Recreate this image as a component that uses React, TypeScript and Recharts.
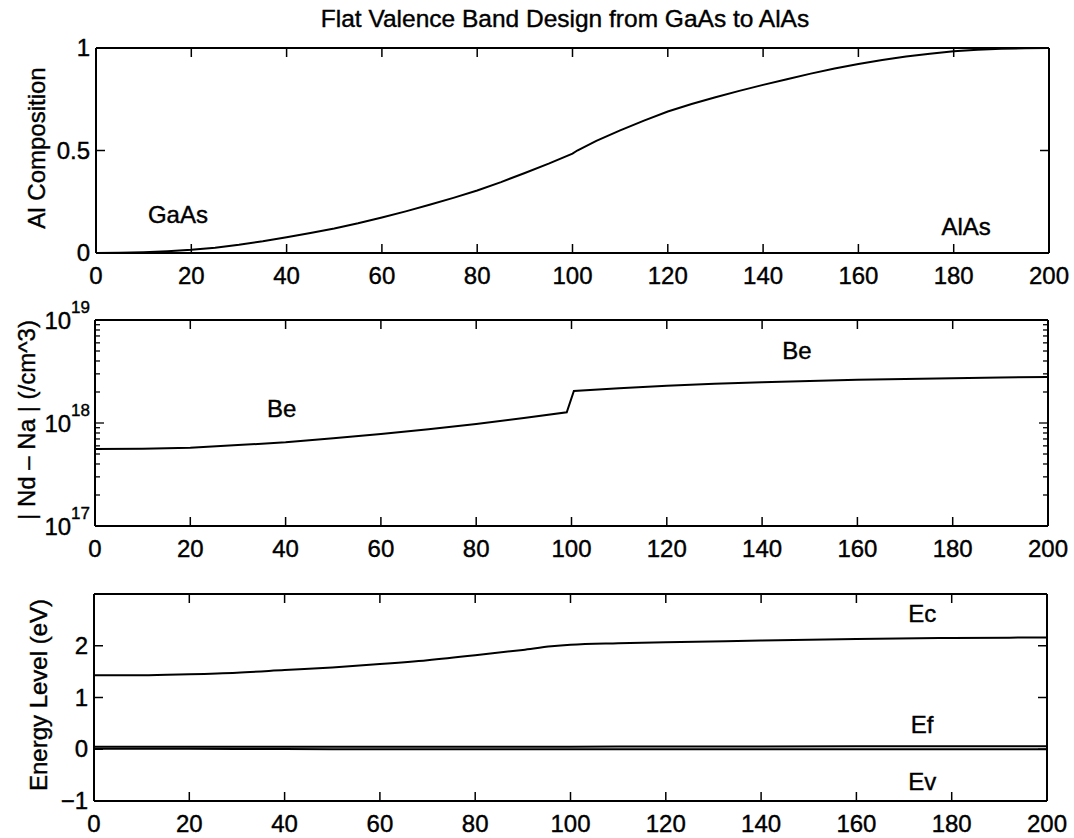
import { LineChart, Line, XAxis, YAxis, ReferenceDot } from "recharts"

const FONT = "'Liberation Sans', Arial, Helvetica, sans-serif"
const W = 1074

// position along the structure
const xTicks = [0, 20, 40, 60, 80, 100, 120, 140, 160, 180, 200]

// Al composition profile
const compX = [0, 5, 10, 15, 20, 25, 30, 35, 40, 45, 50, 55, 60, 65, 70, 75, 80, 85, 90, 95, 100, 101, 105, 110, 115, 120, 125, 130, 135, 140, 145, 150, 155, 160, 165, 170, 175, 180, 185, 190, 195, 200]
const compY = [0, 0.001, 0.004, 0.009, 0.016, 0.026, 0.04, 0.057, 0.077, 0.098, 0.12, 0.145, 0.173, 0.203, 0.235, 0.269, 0.305, 0.346, 0.39, 0.436, 0.485, 0.5, 0.547, 0.598, 0.646, 0.69, 0.727, 0.76, 0.791, 0.82, 0.848, 0.875, 0.9, 0.922, 0.941, 0.958, 0.972, 0.984, 0.992, 0.996, 0.999, 1.0]
const compTicks = [0, 0.5, 1]

// |Nd - Na| doping (Be)
const dopX = [0, 10, 20, 30, 40, 50, 60, 70, 80, 90, 99, 100.5, 110, 120, 130, 140, 150, 160, 170, 180, 190, 200]
const dopY = [5.6e17, 5.62e17, 5.75e17, 6.1e17, 6.5e17, 7.1e17, 7.8e17, 8.7e17, 9.8e17, 1.12e18, 1.27e18, 2.05e18, 2.18e18, 2.3e18, 2.4e18, 2.49e18, 2.56e18, 2.63e18, 2.68e18, 2.72e18, 2.76e18, 2.8e18]
const logTicks = [
  1e17, 2e17, 3e17, 4e17, 5e17, 6e17, 7e17, 8e17, 9e17,
  1e18, 2e18, 3e18, 4e18, 5e18, 6e18, 7e18, 8e18, 9e18, 1e19,
]

// band edges
const bandX = [0, 10, 20, 30, 40, 50, 60, 70, 80, 90, 96, 100, 110, 120, 140, 160, 180, 200]
const ecY = [1.43, 1.43, 1.45, 1.48, 1.53, 1.58, 1.645, 1.72, 1.815, 1.92, 1.99, 2.02, 2.05, 2.07, 2.1, 2.13, 2.15, 2.16]
const efY = [0.05, 0.05, 0.05, 0.05, 0.05, 0.05, 0.05, 0.05, 0.05, 0.05, 0.05, 0.05, 0.052, 0.053, 0.055, 0.057, 0.058, 0.06]
const evY = [0.01, 0.01, 0.01, 0.005, 0.005, 0.0, 0.0, 0.0, 0.0, 0.0, 0.0, 0.0, 0.0, 0.0, 0.0, 0.0, 0.0, 0.0]
const energyTicks = [-1, 0, 1, 2]

const compData = compX.map((x, i) => ({ x, y: compY[i] }))
const dopData = dopX.map((x, i) => ({ x, y: dopY[i] }))
const bandData = bandX.map((x, i) => ({ x, ec: ecY[i], ef: efY[i], ev: evY[i] }))

const axisLine = { stroke: "#000", strokeWidth: 2 }
const TICK = 9
const MINOR = 5
const txt = { fontFamily: FONT, fill: "#000", stroke: "#000", strokeWidth: 0.4 }

const isDecade = (v: number) => Math.abs(Math.log10(v) - Math.round(Math.log10(v))) < 1e-6

function BottomTick(props: any) {
  const { x, y, payload } = props
  return (
    <g>
      <line x1={x} y1={y} x2={x} y2={y - TICK} stroke="#000" strokeWidth={1.5} />
      <text x={x} y={y + 31} textAnchor="middle" fontSize={24} {...txt}>
        {payload.value}
      </text>
    </g>
  )
}

function TopTick(props: any) {
  const { x, y } = props
  return <line x1={x} y1={y} x2={x} y2={y + TICK} stroke="#000" strokeWidth={1.5} />
}

function LeftTick(props: any) {
  const { x, y, payload } = props
  const v = payload.value
  const label = v < 0 ? "\u2212" + Math.abs(v) : String(v)
  return (
    <g>
      <line x1={x} y1={y} x2={x + TICK} y2={y} stroke="#000" strokeWidth={1.5} />
      <text x={x - 6} y={y + 8} textAnchor="end" fontSize={24} {...txt}>
        {label}
      </text>
    </g>
  )
}

function RightTick(props: any) {
  const { x, y } = props
  return <line x1={x} y1={y} x2={x - TICK} y2={y} stroke="#000" strokeWidth={1.5} />
}

function LogLeftTick(props: any) {
  const { x, y, payload } = props
  const v = payload.value
  const major = isDecade(v)
  return (
    <g>
      <line x1={x} y1={y} x2={x + (major ? TICK : MINOR)} y2={y} stroke="#000" strokeWidth={1.3} />
      {major && (
        <text x={x - 5} y={y + 9} textAnchor="end" fontSize={24} {...txt}>
          10
          <tspan dy={-16} fontSize={17}>{Math.round(Math.log10(v))}</tspan>
        </text>
      )}
    </g>
  )
}

function LogRightTick(props: any) {
  const { x, y, payload } = props
  const major = isDecade(payload.value)
  return <line x1={x} y1={y} x2={x - (major ? TICK : MINOR)} y2={y} stroke="#000" strokeWidth={1.3} />
}

function note(text: string) {
  return (p: any) => (
    <text x={p.cx} y={p.cy} textAnchor="middle" dominantBaseline="central" fontSize={24} {...txt}>
      {text}
    </text>
  )
}

export default function App() {
  return (
    <div style={{ position: "absolute", left: 0, top: 0, width: W, height: 838, background: "#fff" }}>
      <div style={{ position: "absolute", left: 0, top: 0 }}>
        <LineChart width={W} height={300} data={compData} margin={{ top: 0, right: 0, bottom: 0, left: 0 }}>
          <XAxis xAxisId="b" dataKey="x" type="number" domain={[0, 200]} ticks={xTicks} interval={0} height={47} tickSize={0} tickMargin={0} axisLine={axisLine} tickLine={false} tick={(p: any) => <BottomTick {...p} />} allowDataOverflow />
          <XAxis xAxisId="t" orientation="top" dataKey="x" type="number" domain={[0, 200]} ticks={xTicks} interval={0} height={48} tickSize={0} tickMargin={0} axisLine={axisLine} tickLine={false} tick={(p: any) => <TopTick {...p} />} allowDataOverflow />
          <YAxis yAxisId="l" type="number" domain={[0, 1]} ticks={compTicks} interval={0} width={96} tickSize={0} tickMargin={0} axisLine={axisLine} tickLine={false} tick={(p: any) => <LeftTick {...p} />} allowDataOverflow />
          <YAxis yAxisId="r" orientation="right" type="number" domain={[0, 1]} ticks={compTicks} interval={0} width={25} tickSize={0} tickMargin={0} axisLine={axisLine} tickLine={false} tick={(p: any) => <RightTick {...p} />} allowDataOverflow />
          <Line xAxisId="b" yAxisId="l" dataKey="y" type="linear" stroke="#000" strokeWidth={2} dot={false} isAnimationActive={false} />
          <ReferenceDot xAxisId="b" yAxisId="l" x={17.2} y={0.19} r={0} shape={note("GaAs")} />
          <ReferenceDot xAxisId="b" yAxisId="l" x={182.6} y={0.13} r={0} shape={note("AlAs")} />
        </LineChart>
      </div>

      <div style={{ position: "absolute", left: 0, top: 288 }}>
        <LineChart width={W} height={282} data={dopData} margin={{ top: 0, right: 0, bottom: 0, left: 0 }}>
          <XAxis xAxisId="b" dataKey="x" type="number" domain={[0, 200]} ticks={xTicks} interval={0} height={44} tickSize={0} tickMargin={0} axisLine={axisLine} tickLine={false} tick={(p: any) => <BottomTick {...p} />} allowDataOverflow />
          <XAxis xAxisId="t" orientation="top" dataKey="x" type="number" domain={[0, 200]} ticks={xTicks} interval={0} height={32} tickSize={0} tickMargin={0} axisLine={axisLine} tickLine={false} tick={(p: any) => <TopTick {...p} />} allowDataOverflow />
          <YAxis yAxisId="l" type="number" scale="log" domain={[1e17, 1e19]} ticks={logTicks} interval={0} width={95} tickSize={0} tickMargin={0} axisLine={axisLine} tickLine={false} tick={(p: any) => <LogLeftTick {...p} />} allowDataOverflow />
          <YAxis yAxisId="r" orientation="right" type="number" scale="log" domain={[1e17, 1e19]} ticks={logTicks} interval={0} width={26} tickSize={0} tickMargin={0} axisLine={axisLine} tickLine={false} tick={(p: any) => <LogRightTick {...p} />} allowDataOverflow />
          <Line xAxisId="b" yAxisId="l" dataKey="y" type="linear" stroke="#000" strokeWidth={2} dot={false} isAnimationActive={false} />
          <ReferenceDot xAxisId="b" yAxisId="l" x={39.2} y={1.37e18} r={0} shape={note("Be")} />
          <ReferenceDot xAxisId="b" yAxisId="l" x={147.3} y={5.1e18} r={0} shape={note("Be")} />
        </LineChart>
      </div>

      <div style={{ position: "absolute", left: 0, top: 570 }}>
        <LineChart width={W} height={268} data={bandData} margin={{ top: 0, right: 0, bottom: 0, left: 0 }}>
          <XAxis xAxisId="b" dataKey="x" type="number" domain={[0, 200]} ticks={xTicks} interval={0} height={37} tickSize={0} tickMargin={0} axisLine={axisLine} tickLine={false} tick={(p: any) => <BottomTick {...p} />} allowDataOverflow />
          <XAxis xAxisId="t" orientation="top" dataKey="x" type="number" domain={[0, 200]} ticks={xTicks} interval={0} height={24} tickSize={0} tickMargin={0} axisLine={axisLine} tickLine={false} tick={(p: any) => <TopTick {...p} />} allowDataOverflow />
          <YAxis yAxisId="l" type="number" domain={[-1, 3]} ticks={energyTicks} interval={0} width={94} tickSize={0} tickMargin={0} axisLine={axisLine} tickLine={false} tick={(p: any) => <LeftTick {...p} />} allowDataOverflow />
          <YAxis yAxisId="r" orientation="right" type="number" domain={[-1, 3]} ticks={energyTicks} interval={0} width={27} tickSize={0} tickMargin={0} axisLine={axisLine} tickLine={false} tick={(p: any) => <RightTick {...p} />} allowDataOverflow />
          <Line xAxisId="b" yAxisId="l" dataKey="ec" type="monotone" stroke="#000" strokeWidth={2} dot={false} isAnimationActive={false} />
          <Line xAxisId="b" yAxisId="l" dataKey="ef" type="linear" stroke="#000" strokeWidth={2} dot={false} isAnimationActive={false} />
          <Line xAxisId="b" yAxisId="l" dataKey="ev" type="linear" stroke="#000" strokeWidth={2} dot={false} isAnimationActive={false} />
          <ReferenceDot xAxisId="b" yAxisId="l" x={173.8} y={2.63} r={0} shape={note("Ec")} />
          <ReferenceDot xAxisId="b" yAxisId="l" x={173.8} y={0.48} r={0} shape={note("Ef")} />
          <ReferenceDot xAxisId="b" yAxisId="l" x={173.8} y={-0.62} r={0} shape={note("Ev")} />
        </LineChart>
      </div>

      <svg width={W} height={838} style={{ position: "absolute", left: 0, top: 0, pointerEvents: "none" }}>
        <text x={565} y={27} textAnchor="middle" fontSize={24.5} {...txt}>
          Flat Valence Band Design from GaAs to AlAs
        </text>
        <text transform="translate(37,148) rotate(-90)" y={8} textAnchor="middle" fontSize={24} {...txt}>
          Al Composition
        </text>
        <text transform="translate(27,420) rotate(-90)" y={8} textAnchor="middle" fontSize={24} {...txt}>
          | Nd – Na | (/cm^3)
        </text>
        <text transform="translate(39,695) rotate(-90)" y={8} textAnchor="middle" fontSize={24} {...txt}>
          Energy Level (eV)
        </text>
      </svg>
    </div>
  )
}
